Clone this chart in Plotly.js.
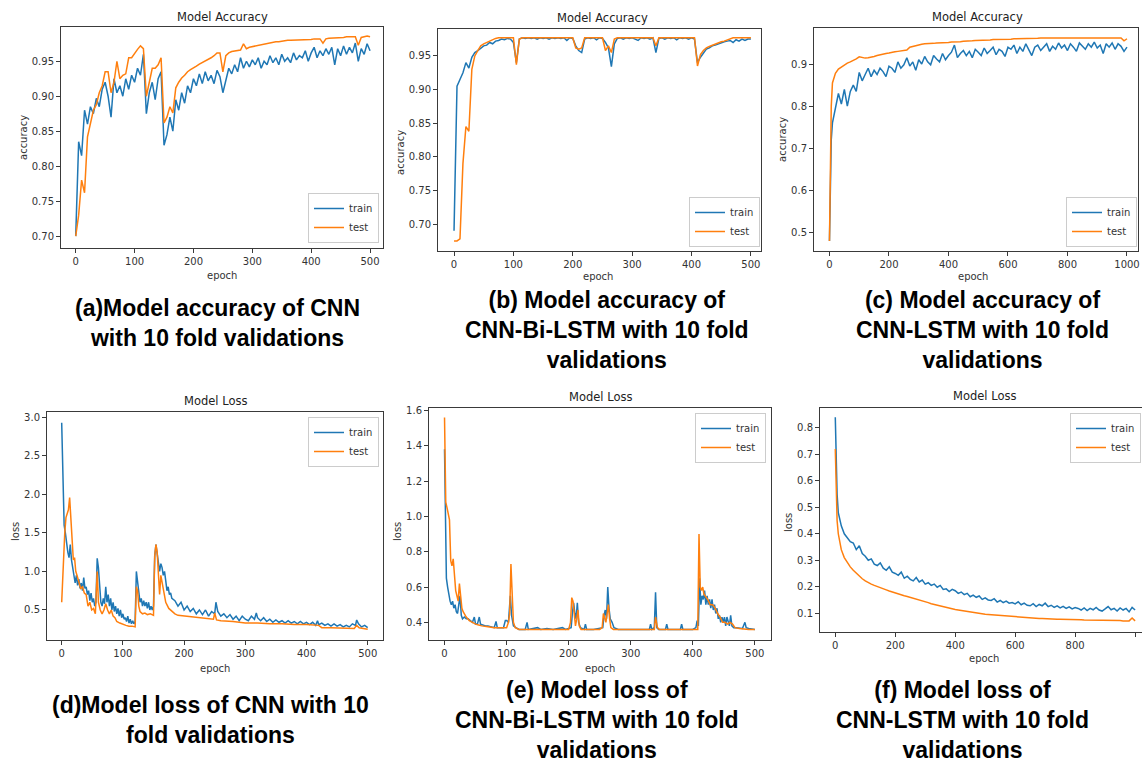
<!DOCTYPE html>
<html><head><meta charset="utf-8">
<script src="https://cdn.plot.ly/plotly-3.0.1.min.js"></script>
<style>html,body{margin:0;padding:0;background:#fff}#chart{width:1142px;height:762px}</style>
</head><body><div id="chart"></div>
<script>
// ---------------- DATA ----------------
const seriesNames = ["train", "test"];

// (a) CNN accuracy
const aEpoch = [0,5,10,15,20,25,30,35,40,45,50,55,60,65,70,75,80,85,90,95,100,105,110,115,120,125,130,135,140,145,150,155,160,165,170,175,180,185,190,195,200,205,210,215,220,225,230,235,240,245,250,255,260,265,270,275,280,285,290,295,300,305,310,315,320,325,330,335,340,345,350,355,360,365,370,375,380,385,390,395,400,405,410,415,420,425,430,435,440,445,450,455,460,465,470,475,480,485,490,495,500];
const aTrain = [0.700,0.835,0.815,0.880,0.860,0.885,0.875,0.897,0.885,0.910,0.920,0.900,0.870,0.925,0.905,0.915,0.900,0.925,0.910,0.930,0.920,0.940,0.930,0.960,0.875,0.905,0.920,0.895,0.925,0.935,0.830,0.845,0.870,0.850,0.895,0.880,0.905,0.890,0.915,0.905,0.925,0.915,0.932,0.918,0.935,0.922,0.930,0.918,0.937,0.928,0.905,0.925,0.940,0.932,0.945,0.935,0.955,0.940,0.950,0.942,0.952,0.945,0.955,0.940,0.950,0.945,0.958,0.948,0.955,0.945,0.960,0.950,0.955,0.948,0.962,0.952,0.958,0.955,0.965,0.950,0.962,0.970,0.955,0.965,0.958,0.968,0.960,0.970,0.945,0.968,0.958,0.972,0.960,0.970,0.962,0.976,0.950,0.968,0.960,0.975,0.965];
const aTest = [0.700,0.730,0.780,0.762,0.842,0.860,0.880,0.888,0.905,0.915,0.935,0.935,0.905,0.920,0.950,0.925,0.930,0.932,0.955,0.955,0.962,0.967,0.972,0.968,0.900,0.920,0.940,0.940,0.945,0.955,0.862,0.870,0.885,0.876,0.912,0.920,0.926,0.930,0.935,0.938,0.940,0.943,0.946,0.948,0.950,0.952,0.955,0.958,0.962,0.962,0.935,0.958,0.962,0.964,0.965,0.966,0.966,0.975,0.968,0.970,0.971,0.972,0.972,0.974,0.975,0.975,0.976,0.977,0.978,0.978,0.979,0.979,0.980,0.980,0.980,0.980,0.981,0.981,0.981,0.981,0.981,0.982,0.982,0.982,0.976,0.982,0.983,0.983,0.984,0.984,0.984,0.984,0.985,0.985,0.985,0.985,0.973,0.984,0.985,0.986,0.985];

// (b) CNN-Bi-LSTM accuracy
const bEpoch = aEpoch;
const bTrain = [0.690,0.905,0.915,0.925,0.940,0.932,0.948,0.955,0.958,0.962,0.965,0.966,0.970,0.968,0.972,0.973,0.975,0.974,0.976,0.975,0.970,0.940,0.975,0.977,0.976,0.977,0.976,0.977,0.975,0.977,0.976,0.977,0.975,0.977,0.976,0.977,0.976,0.977,0.973,0.977,0.976,0.965,0.958,0.955,0.975,0.977,0.976,0.977,0.974,0.977,0.976,0.970,0.962,0.934,0.968,0.976,0.977,0.975,0.977,0.976,0.977,0.975,0.973,0.977,0.976,0.977,0.975,0.977,0.955,0.976,0.977,0.975,0.977,0.976,0.977,0.974,0.977,0.976,0.977,0.975,0.977,0.975,0.940,0.948,0.955,0.960,0.962,0.965,0.966,0.968,0.970,0.971,0.972,0.973,0.970,0.974,0.972,0.975,0.973,0.975,0.975];
const bTest = [0.675,0.675,0.678,0.790,0.845,0.838,0.930,0.950,0.958,0.965,0.968,0.970,0.973,0.975,0.976,0.977,0.977,0.977,0.977,0.977,0.977,0.937,0.975,0.977,0.977,0.977,0.977,0.977,0.977,0.977,0.977,0.977,0.977,0.977,0.977,0.977,0.977,0.977,0.977,0.977,0.977,0.962,0.960,0.962,0.977,0.977,0.977,0.977,0.977,0.977,0.977,0.958,0.965,0.955,0.975,0.977,0.977,0.977,0.977,0.977,0.977,0.977,0.977,0.977,0.977,0.977,0.977,0.977,0.965,0.977,0.977,0.977,0.977,0.977,0.977,0.977,0.977,0.977,0.977,0.977,0.977,0.977,0.935,0.952,0.958,0.962,0.964,0.966,0.968,0.970,0.971,0.972,0.974,0.976,0.977,0.977,0.977,0.977,0.977,0.977,0.977];

// (c) CNN-LSTM accuracy
const cEpoch = [0,3,6,10,20,30,40,50,60,70,80,90,100,110,120,130,140,150,160,170,180,190,200,210,220,230,240,250,260,270,280,290,300,310,320,330,340,350,360,370,380,390,400,410,420,430,440,450,460,470,480,490,500,510,520,530,540,550,560,570,580,590,600,610,620,630,640,650,660,670,680,690,700,710,720,730,740,750,760,770,780,790,800,810,820,830,840,850,860,870,880,890,900,910,920,930,940,950,960,970,980,990,1000];
const cTrain = [0.48,0.66,0.72,0.76,0.80,0.83,0.805,0.84,0.80,0.835,0.85,0.835,0.88,0.86,0.875,0.89,0.87,0.885,0.875,0.89,0.882,0.87,0.895,0.89,0.88,0.905,0.89,0.898,0.915,0.895,0.905,0.885,0.91,0.90,0.918,0.905,0.898,0.92,0.912,0.905,0.925,0.91,0.92,0.928,0.945,0.915,0.925,0.932,0.92,0.93,0.915,0.935,0.928,0.92,0.938,0.925,0.932,0.94,0.922,0.935,0.93,0.918,0.94,0.935,0.945,0.925,0.94,0.93,0.948,0.935,0.92,0.94,0.945,0.932,0.94,0.948,0.93,0.942,0.935,0.95,0.938,0.945,0.932,0.948,0.94,0.93,0.95,0.942,0.935,0.948,0.94,0.952,0.938,0.945,0.925,0.948,0.94,0.95,0.935,0.948,0.942,0.93,0.94];
const cTest = [0.48,0.70,0.80,0.855,0.878,0.888,0.893,0.898,0.902,0.905,0.908,0.912,0.917,0.915,0.914,0.915,0.916,0.918,0.920,0.922,0.924,0.925,0.926,0.928,0.929,0.930,0.931,0.932,0.933,0.940,0.942,0.944,0.946,0.947,0.948,0.948,0.949,0.949,0.950,0.950,0.951,0.951,0.951,0.952,0.952,0.953,0.953,0.954,0.954,0.955,0.955,0.956,0.956,0.956,0.957,0.957,0.957,0.958,0.958,0.958,0.959,0.959,0.959,0.959,0.960,0.960,0.960,0.960,0.961,0.961,0.961,0.961,0.961,0.962,0.962,0.962,0.962,0.962,0.962,0.962,0.962,0.963,0.963,0.963,0.963,0.963,0.963,0.963,0.963,0.963,0.963,0.963,0.963,0.963,0.963,0.963,0.963,0.963,0.963,0.963,0.962,0.955,0.960];

// (d) CNN loss
const dTrainEpoch = [0,2,4,6,8,10,12,14,16,18,20,22,24,26,28,30,32,34,36,38,40,42,44,46,48,50,52,54,56,58,60,62,64,66,68,70,72,74,76,78,80,82,84,86,88,90,92,94,96,98,100,102,104,106,108,110,112,114,116,118,120,122,124,126,128,130,132,134,136,138,140,142,144,146,148,150,152,154,156,158,160,162,164,166,168,170,172,174,176,178,180,185,190,195,200,205,210,215,220,225,230,235,240,245,250,252,255,260,265,270,275,280,285,290,295,300,305,310,315,318,320,325,330,335,340,345,350,355,360,365,370,375,380,385,390,395,400,405,410,415,418,420,425,430,435,440,445,450,455,460,465,470,475,480,482,485,490,495,500];
const dTrainLoss = [2.93,2.1,1.6,1.5,1.35,1.25,1.18,1.35,1.15,1.05,0.98,0.85,0.95,0.82,0.9,0.78,0.85,0.75,0.92,0.78,0.8,0.7,0.75,0.62,0.72,0.6,0.65,0.55,0.6,1.17,1.05,0.75,0.6,0.55,0.65,0.58,0.8,0.6,0.7,0.55,0.65,0.5,0.6,0.48,0.55,0.45,0.52,0.42,0.5,0.4,0.45,0.38,0.4,0.35,0.42,0.33,0.38,0.32,0.36,0.32,0.35,1.0,0.85,0.7,0.6,0.65,0.55,0.62,0.55,0.6,0.52,0.6,0.5,0.55,0.5,0.55,1.2,1.35,1.25,1.1,1.0,1.1,1.05,0.95,1.0,0.88,0.75,0.8,0.7,0.72,0.65,0.62,0.55,0.6,0.5,0.55,0.48,0.52,0.45,0.5,0.44,0.5,0.42,0.48,0.45,0.6,0.48,0.42,0.45,0.4,0.44,0.38,0.42,0.36,0.42,0.38,0.36,0.42,0.38,0.46,0.4,0.36,0.4,0.35,0.38,0.34,0.37,0.34,0.36,0.33,0.36,0.33,0.35,0.32,0.35,0.32,0.34,0.31,0.34,0.3,0.36,0.31,0.33,0.3,0.32,0.29,0.32,0.29,0.31,0.28,0.3,0.28,0.32,0.3,0.37,0.32,0.28,0.3,0.27];
const dTestEpoch = [0,3,5,7,9,11,13,15,17,19,21,23,25,28,31,34,37,40,43,46,49,52,55,58,60,63,66,69,72,75,78,81,84,87,90,95,100,105,110,115,120,122,124,126,128,132,136,140,145,150,152,154,156,158,160,162,164,166,170,175,180,185,190,200,210,220,230,240,248,250,253,260,280,300,320,340,360,380,400,420,425,440,460,478,482,486,500];
const dTestLoss = [0.6,1.2,1.5,1.7,1.75,1.8,1.96,1.7,1.3,1.15,1.18,1.0,0.95,0.85,0.78,0.8,0.72,0.7,0.55,0.6,0.5,0.52,0.45,1.0,0.6,0.5,0.45,0.5,0.58,0.5,0.45,0.5,0.42,0.4,0.35,0.33,0.31,0.3,0.29,0.29,0.28,0.8,0.75,0.55,0.48,0.45,0.46,0.44,0.45,0.43,1.2,1.35,1.25,1.0,0.7,0.95,0.85,0.75,0.6,0.52,0.48,0.45,0.43,0.42,0.41,0.4,0.39,0.38,0.38,0.46,0.37,0.36,0.35,0.33,0.33,0.32,0.32,0.31,0.31,0.3,0.27,0.27,0.26,0.26,0.3,0.27,0.25];

// (e) CNN-Bi-LSTM loss
const eTrainEpoch = [0,1,2,3,5,7,9,11,13,15,17,19,21,23,25,27,29,32,35,38,42,45,48,50,53,56,58,62,66,70,75,80,83,85,90,95,98,100,103,106,108,111,115,120,130,133,135,145,150,155,165,175,185,190,195,204,206,208,210,212,214,216,219,225,227,229,240,255,257,259,261,263,265,267,270,273,280,300,320,330,332,334,338,340,342,345,356,358,360,380,382,384,400,405,407,409,411,413,415,417,419,421,423,425,427,429,431,433,435,437,439,441,443,445,447,449,451,453,455,457,459,461,463,466,470,480,484,486,490,500];
const eTrainLoss = [1.38,1.07,0.8,0.65,0.6,0.55,0.52,0.5,0.52,0.48,0.5,0.46,0.45,0.5,0.55,0.44,0.42,0.43,0.42,0.42,0.41,0.4,0.43,0.39,0.39,0.43,0.39,0.385,0.38,0.38,0.375,0.37,0.405,0.37,0.37,0.37,0.41,0.41,0.4,0.55,0.44,0.38,0.37,0.36,0.36,0.4,0.36,0.365,0.37,0.36,0.365,0.36,0.365,0.37,0.36,0.37,0.45,0.51,0.45,0.42,0.51,0.4,0.37,0.36,0.39,0.36,0.36,0.37,0.44,0.47,0.42,0.6,0.48,0.42,0.4,0.37,0.36,0.36,0.36,0.36,0.39,0.36,0.37,0.57,0.37,0.36,0.36,0.39,0.36,0.36,0.39,0.36,0.36,0.37,0.41,0.38,0.65,0.5,0.55,0.53,0.58,0.5,0.55,0.5,0.53,0.48,0.53,0.47,0.5,0.45,0.48,0.42,0.44,0.4,0.43,0.4,0.43,0.38,0.43,0.4,0.38,0.44,0.38,0.37,0.37,0.365,0.4,0.37,0.365,0.36];
const eTestEpoch = [0,1,2,4,6,8,10,12,14,16,18,20,22,24,26,28,30,35,40,45,50,55,60,70,80,90,100,103,105,107,109,111,114,120,140,160,180,200,203,205,207,209,211,213,215,217,220,250,254,256,258,260,262,264,266,268,272,300,338,340,343,346,380,408,410,412,414,416,418,420,424,428,432,436,440,444,448,452,456,460,464,468,475,490,500];
const eTestLoss = [1.56,1.3,1.08,1.05,1.0,0.98,0.75,0.72,0.76,0.65,0.58,0.55,0.52,0.62,0.55,0.48,0.46,0.43,0.41,0.4,0.39,0.385,0.38,0.375,0.37,0.37,0.37,0.4,0.45,0.73,0.5,0.4,0.37,0.36,0.36,0.36,0.36,0.36,0.4,0.54,0.52,0.43,0.38,0.42,0.47,0.38,0.36,0.36,0.37,0.45,0.43,0.4,0.45,0.5,0.42,0.37,0.36,0.36,0.36,0.43,0.37,0.36,0.36,0.36,0.9,0.6,0.58,0.6,0.56,0.55,0.53,0.5,0.5,0.48,0.45,0.43,0.4,0.4,0.39,0.4,0.39,0.37,0.365,0.36,0.36];

// (f) CNN-LSTM loss
const fEpoch = cEpoch;
const fTrain = [0.84,0.62,0.55,0.48,0.43,0.40,0.385,0.37,0.365,0.34,0.355,0.325,0.315,0.30,0.305,0.285,0.28,0.29,0.27,0.262,0.275,0.255,0.25,0.243,0.255,0.232,0.24,0.228,0.222,0.235,0.218,0.225,0.21,0.215,0.205,0.21,0.198,0.205,0.19,0.192,0.182,0.19,0.185,0.175,0.18,0.17,0.175,0.162,0.168,0.16,0.165,0.152,0.158,0.15,0.148,0.155,0.142,0.148,0.14,0.146,0.138,0.14,0.135,0.143,0.132,0.138,0.13,0.128,0.136,0.125,0.133,0.128,0.138,0.125,0.13,0.122,0.128,0.12,0.126,0.118,0.124,0.116,0.121,0.118,0.112,0.12,0.11,0.118,0.113,0.122,0.112,0.108,0.116,0.125,0.113,0.118,0.108,0.12,0.112,0.118,0.105,0.122,0.112];
const fTest = [0.72,0.55,0.45,0.40,0.34,0.31,0.29,0.275,0.262,0.25,0.24,0.23,0.222,0.215,0.21,0.205,0.2,0.196,0.192,0.188,0.184,0.18,0.177,0.173,0.17,0.166,0.163,0.16,0.157,0.153,0.15,0.146,0.143,0.14,0.136,0.133,0.13,0.127,0.124,0.121,0.118,0.116,0.114,0.112,0.11,0.108,0.106,0.104,0.102,0.1,0.099,0.097,0.096,0.095,0.094,0.093,0.092,0.091,0.09,0.09,0.089,0.088,0.088,0.087,0.086,0.085,0.084,0.083,0.082,0.081,0.08,0.08,0.079,0.079,0.078,0.078,0.077,0.077,0.077,0.076,0.076,0.076,0.075,0.075,0.075,0.074,0.074,0.074,0.074,0.073,0.073,0.073,0.073,0.072,0.072,0.072,0.072,0.072,0.071,0.071,0.071,0.082,0.071];

const panelTitles = ["Model Accuracy","Model Accuracy","Model Accuracy","Model Loss","Model Loss","Model Loss"];
const yTitles = ["accuracy","accuracy","accuracy","loss","loss","loss"];
const xTitle = "epoch";
const captions = [
  "(a)Model accuracy of CNN<br>with 10 fold validations",
  "(b) Model accuracy of<br>CNN-Bi-LSTM with 10 fold<br>validations",
  "(c) Model accuracy of<br>CNN-LSTM with 10 fold<br>validations",
  "(d)Model loss of CNN with 10<br>fold validations",
  "(e) Model loss of<br>CNN-Bi-LSTM with 10 fold<br>validations",
  "(f) Model loss of<br>CNN-LSTM with 10 fold<br>validations"
];

// ---------------- LAYOUT (pixel geometry) ----------------
const W = 1142, H = 762;
const px = x => x / W;
const py = y => 1 - y / H;
const BLUE = "#1f77b4", ORANGE = "#ff7f0e";

// box: [left, top, right, bottom] in px
const panels = [
  {box:[61,27,383,248],  xr:[-25,522],  yr:[0.683,0.999], ytv:[0.70,0.75,0.80,0.85,0.90,0.95], yfmt:".2f", xtv:[0,100,200,300,400,500],
   title:[222,17], ylab:[23,138], xlab:[222,275], leg:{x:379,y:243,xa:"right",ya:"bottom"}, cap:[217,323]},
  {box:[438,29,761,251], xr:[-27,517],  yr:[0.660,0.990], ytv:[0.70,0.75,0.80,0.85,0.90,0.95], yfmt:".2f", xtv:[0,100,200,300,400,500],
   title:[602,18], ylab:[401,153], xlab:[598,277], leg:{x:760,y:247,xa:"right",ya:"bottom"}, cap:[607,330]},
  {box:[814,28,1138,251],xr:[-52,1037], yr:[0.456,0.9855], ytv:[0.5,0.6,0.7,0.8,0.9], yfmt:".1f", xtv:[0,200,400,600,800,1000],
   title:[977,17], ylab:[783,140], xlab:[973,277], leg:{x:1137,y:247,xa:"right",ya:"bottom"}, cap:[982,330]},
  {box:[47,412,383,640], xr:[-24,525],  yr:[0.11,3.07], ytv:[0.5,1.0,1.5,2.0,2.5,3.0], yfmt:".1f", xtv:[0,100,200,300,400,500],
   title:[215,401], ylab:[15,532], xlab:[215,668], leg:{x:379,y:417,xa:"right",ya:"top"}, cap:[210,720]},
  {box:[429,408,771,640],xr:[-25,526],  yr:[0.30,1.614], ytv:[0.4,0.6,0.8,1.0,1.2,1.4,1.6], yfmt:".1f", xtv:[0,100,200,300,400,500],
   title:[600,397], ylab:[397,532], xlab:[600,668], leg:{x:766,y:413,xa:"right",ya:"top"}, cap:[597,720]},
  {box:[820,408,1142,632],xr:[-51,1023],yr:[0.029,0.875], ytv:[0.1,0.2,0.3,0.4,0.5,0.6,0.7,0.8], yfmt:".1f", xtv:[0,200,400,600,800,1000],
   title:[984,396], ylab:[788,523], xlab:[984,658], leg:{x:1141,y:413,xa:"right",ya:"top"}, cap:[962,720]}
];

const seriesData = [
  [[aEpoch,aTrain],[aEpoch,aTest]],
  [[bEpoch,bTrain],[bEpoch,bTest]],
  [[cEpoch,cTrain],[cEpoch,cTest]],
  [[dTrainEpoch,dTrainLoss],[dTestEpoch,dTestLoss]],
  [[eTrainEpoch,eTrainLoss],[eTestEpoch,eTestLoss]],
  [[fEpoch,fTrain],[fEpoch,fTest]]
];

const tickFont = {family:"DejaVu Sans, sans-serif", size:10, color:"#333"};
const labFont = {family:"DejaVu Sans, sans-serif", size:10, color:"#333"};
const titleFont = {family:"DejaVu Sans, sans-serif", size:11.5, color:"#222"};
const capFont = {family:"Liberation Sans, Arial, sans-serif", size:23, color:"#000"};

const traces = [];
const layout = {
  width: W, height: H,
  margin: {l:0, r:0, t:0, b:0, autoexpand:false},
  paper_bgcolor: "#fff", plot_bgcolor: "#fff",
  showlegend: true,
  annotations: []
};

panels.forEach((p, i) => {
  const n = i === 0 ? "" : String(i + 1);
  const xa = "xaxis" + n, ya = "yaxis" + n;
  const legName = "legend" + n;
  const [l, t, r, b] = p.box;
  const axBase = {
    showgrid:false, zeroline:false, showline:true, mirror:true,
    linecolor:"#3a3a3a", linewidth:1, ticks:"outside", ticklen:4, tickwidth:1,
    tickcolor:"#3a3a3a", tickfont:tickFont, automargin:false, fixedrange:true
  };
  layout[xa] = Object.assign({}, axBase, {
    domain:[px(l), px(r)], range:p.xr, tickmode:"array", tickvals:p.xtv,
    anchor: "y" + n
  });
  layout[ya] = Object.assign({}, axBase, {
    domain:[py(b), py(t)], range:p.yr, tickmode:"array", tickvals:p.ytv,
    tickformat:p.yfmt, anchor: "x" + n
  });
  layout[legName] = {
    x: px(p.leg.x), y: py(p.leg.y), xanchor:p.leg.xa, yanchor:p.leg.ya,
    xref:"paper", yref:"paper",
    bgcolor:"rgba(255,255,255,0.85)", bordercolor:"#cccccc", borderwidth:1,
    font:{family:"DejaVu Sans, sans-serif", size:10, color:"#333"},
    itemwidth:30, tracegroupgap:0
  };
  seriesData[i].forEach((s, k) => {
    traces.push({
      type:"scatter", mode:"lines", x:s[0], y:s[1], name:seriesNames[k],
      xaxis:"x" + n, yaxis:"y" + n, legend:legName,
      line:{color: k === 0 ? BLUE : ORANGE, width:1.5},
      hoverinfo:"skip"
    });
  });
  layout.annotations.push(
    {text:panelTitles[i], x:px(p.title[0]), y:py(p.title[1]), xref:"paper", yref:"paper",
     xanchor:"center", yanchor:"middle", showarrow:false, font:titleFont},
    {text:yTitles[i], x:px(p.ylab[0]), y:py(p.ylab[1]), xref:"paper", yref:"paper",
     xanchor:"center", yanchor:"middle", showarrow:false, textangle:-90, font:labFont},
    {text:xTitle, x:px(p.xlab[0]), y:py(p.xlab[1]), xref:"paper", yref:"paper",
     xanchor:"center", yanchor:"middle", showarrow:false, font:labFont},
    {text:"<b>" + captions[i] + "</b>", x:px(p.cap[0]), y:py(p.cap[1]), xref:"paper", yref:"paper",
     xanchor:"center", yanchor:"middle", showarrow:false, font:capFont, align:"center"}
  );
});

Plotly.newPlot("chart", traces, layout, {staticPlot:true, displayModeBar:false});
</script>
</body></html>
